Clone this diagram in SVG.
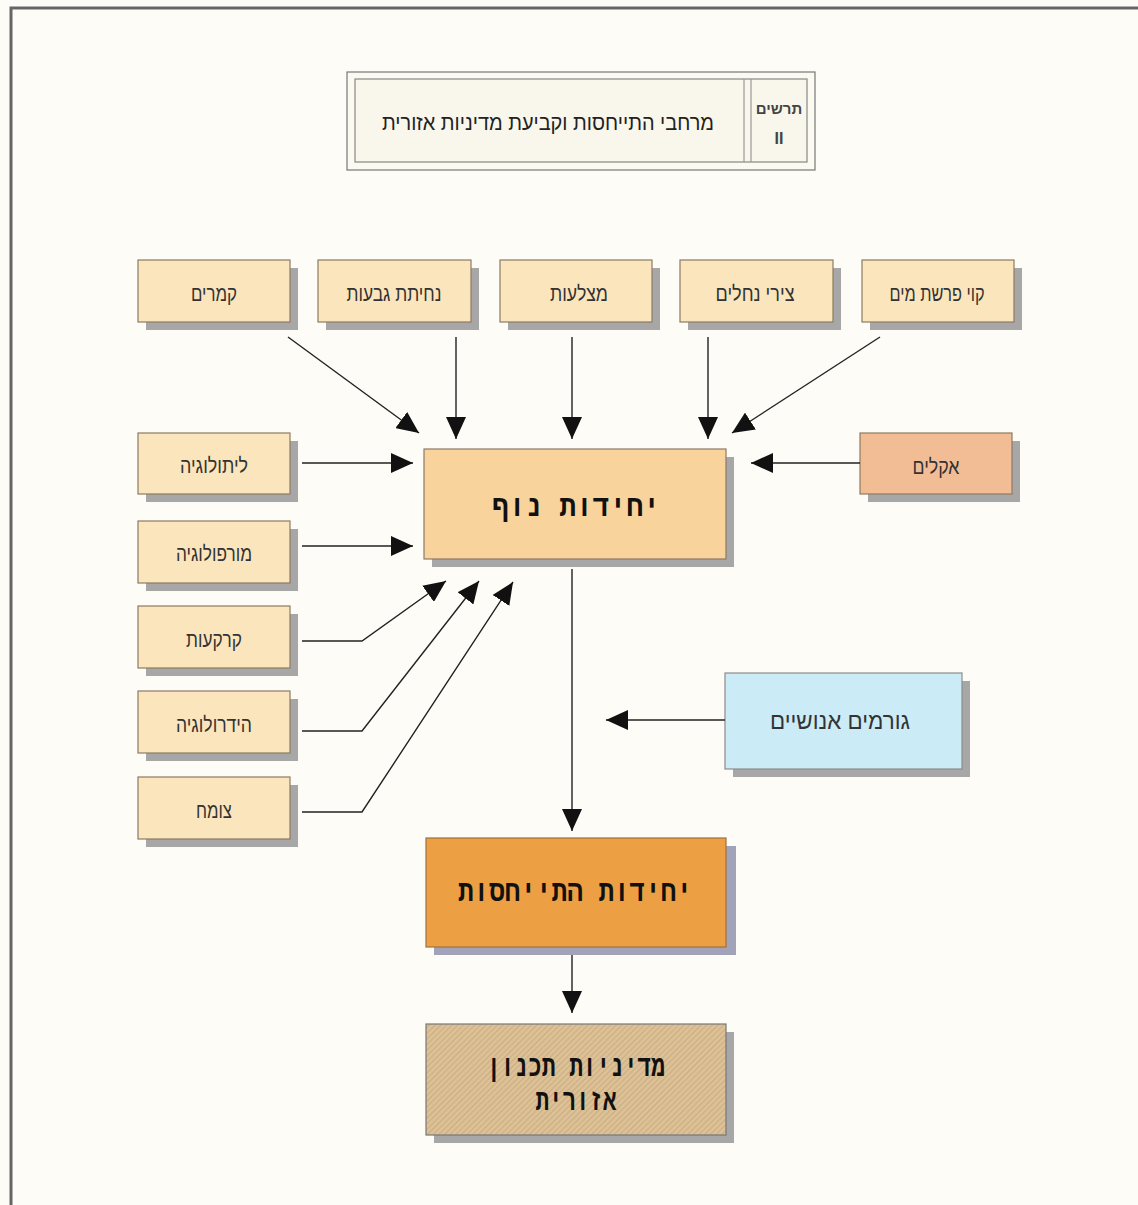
<svg xmlns="http://www.w3.org/2000/svg" width="1138" height="1205" viewBox="0 0 1138 1205">
<style>
.box{fill:#fbe5bd;stroke:#8c7b62;stroke-width:1.2}
.sh{fill:#a7a7a7}
.lbl{font-family:"Liberation Sans","DejaVu Sans",sans-serif;font-size:21px;fill:#333;text-anchor:middle}
.big{font-family:"DejaVu Sans Mono","Liberation Mono",monospace;font-weight:bold;font-size:30px;fill:#111;text-anchor:middle}
.ln{stroke:#222;stroke-width:1.4;fill:none}
</style>
<defs>
<marker id="ah" markerUnits="userSpaceOnUse" markerWidth="24" markerHeight="20" refX="22" refY="10" orient="auto">
<path d="M0,0 L22,10 L0,20 Z" fill="#111"/>
</marker>
<pattern id="tex" patternUnits="userSpaceOnUse" width="4" height="4" patternTransform="rotate(45)">
<rect width="4" height="4" fill="#dcc096"/>
<line x1="0" y1="0" x2="0" y2="4" stroke="#c6a77a" stroke-width="1.5"/>
</pattern>
</defs>
<rect x="0" y="0" width="1138" height="1205" fill="#fefcf6"/>
<path d="M11,1205 L11,8 L1138,8" fill="none" stroke="#666" stroke-width="3"/>

<g id="title">
<rect x="347" y="72" width="468" height="98" fill="#fbf9f0" stroke="#777" stroke-width="1.2"/>
<rect x="355" y="79" width="452" height="83" fill="#f9f6ec" stroke="#888" stroke-width="1.2"/>
<line x1="744" y1="79" x2="744" y2="162" stroke="#999" stroke-width="1.2"/>
<line x1="751" y1="79" x2="751" y2="162" stroke="#999" stroke-width="1.2"/>
<text class="lbl" x="548" y="130" style="font-size:22px;fill:#222" textLength="332" lengthAdjust="spacingAndGlyphs">מרחבי התייחסות וקביעת מדיניות אזורית</text>
<text class="lbl" x="779" y="114" style="font-size:15px;font-weight:bold;fill:#444">תרשים</text>
<text class="lbl" x="779" y="144" style="font-size:16px;font-weight:bold;fill:#444">II</text>
</g>

<g id="n-kmarim"><rect class="sh" x="146" y="268" width="152" height="62"/><rect class="box" x="138" y="260" width="152" height="62"/><text class="lbl" x="214" y="301" textLength="46" lengthAdjust="spacingAndGlyphs">קמרים</text></g>
<g id="n-nachit"><rect class="sh" x="326" y="268" width="153" height="62"/><rect class="box" x="318" y="260" width="153" height="62"/><text class="lbl" x="394" y="301" textLength="95" lengthAdjust="spacingAndGlyphs">נחיתת גבעות</text></g>
<g id="n-matzlaot"><rect class="sh" x="508" y="268" width="152" height="62"/><rect class="box" x="500" y="260" width="152" height="62"/><text class="lbl" x="579" y="301" textLength="58" lengthAdjust="spacingAndGlyphs">מצלעות</text></g>
<g id="n-tzirei"><rect class="sh" x="688" y="268" width="153" height="62"/><rect class="box" x="680" y="260" width="153" height="62"/><text class="lbl" x="755" y="301" textLength="79" lengthAdjust="spacingAndGlyphs">צירי נחלים</text></g>
<g id="n-kav"><rect class="sh" x="870" y="268" width="152" height="62"/><rect class="box" x="862" y="260" width="152" height="62"/><text class="lbl" x="937" y="301" textLength="95" lengthAdjust="spacingAndGlyphs">קוי פרשת מים</text></g>

<g id="n-lito"><rect class="sh" x="146" y="441" width="152" height="61"/><rect class="box" x="138" y="433" width="152" height="61"/><text class="lbl" x="214" y="473" textLength="68" lengthAdjust="spacingAndGlyphs">ליתולוגיה</text></g>
<g id="n-morfo"><rect class="sh" x="146" y="529" width="152" height="62"/><rect class="box" x="138" y="521" width="152" height="62"/><text class="lbl" x="214" y="561" textLength="76" lengthAdjust="spacingAndGlyphs">מורפולוגיה</text></g>
<g id="n-karkaot"><rect class="sh" x="146" y="614" width="152" height="62"/><rect class="box" x="138" y="606" width="152" height="62"/><text class="lbl" x="214" y="647" textLength="56" lengthAdjust="spacingAndGlyphs">קרקעות</text></g>
<g id="n-hidro"><rect class="sh" x="146" y="699" width="152" height="62"/><rect class="box" x="138" y="691" width="152" height="62"/><text class="lbl" x="214" y="732" textLength="76" lengthAdjust="spacingAndGlyphs">הידרולוגיה</text></g>
<g id="n-tzomach"><rect class="sh" x="146" y="785" width="152" height="62"/><rect class="box" x="138" y="777" width="152" height="62"/><text class="lbl" x="214" y="818" textLength="36" lengthAdjust="spacingAndGlyphs">צומח</text></g>

<g id="n-aklim"><rect class="sh" x="868" y="441" width="152" height="61"/><rect x="860" y="433" width="152" height="61" fill="#f2bd94" stroke="#8c7b62" stroke-width="1.2"/><text class="lbl" x="936" y="474" textLength="47" lengthAdjust="spacingAndGlyphs">אקלים</text></g>

<g id="n-nof"><rect class="sh" x="432" y="457" width="302" height="110"/><rect x="424" y="449" width="302" height="110" fill="#f9d39c" stroke="#8c7b62" stroke-width="1.2"/><text class="big" x="576" y="516" textLength="168" lengthAdjust="spacingAndGlyphs">יחידות נוף</text></g>

<g id="n-gormim"><rect class="sh" x="733" y="681" width="237" height="96"/><rect x="725" y="673" width="237" height="96" fill="#cbebf7" stroke="#8c8c8c" stroke-width="1.2"/><text class="lbl" x="840" y="729" style="font-size:24px" textLength="140" lengthAdjust="spacingAndGlyphs">גורמים אנושיים</text></g>

<g id="n-hityachsut"><rect x="434" y="846" width="302" height="109" fill="#a2a2b8"/><rect x="426" y="838" width="300" height="109" fill="#eda043" stroke="#a07040" stroke-width="1.2"/><text class="big" x="575" y="901" textLength="234" lengthAdjust="spacingAndGlyphs">יחידות התייחסות</text></g>

<g id="n-mediniyut"><rect class="sh" x="434" y="1032" width="300" height="111"/><rect x="426" y="1024" width="300" height="111" fill="url(#tex)" stroke="#777" stroke-width="1.2"/><text class="big" x="576" y="1076" textLength="178" lengthAdjust="spacingAndGlyphs">מדיניות תכנון</text><text class="big" x="576" y="1110" textLength="81" lengthAdjust="spacingAndGlyphs">אזורית</text></g>

<g id="connectors">
<line class="ln" x1="288" y1="337" x2="419" y2="433" marker-end="url(#ah)"/>
<line class="ln" x1="456" y1="337" x2="456" y2="439" marker-end="url(#ah)"/>
<line class="ln" x1="572" y1="337" x2="572" y2="439" marker-end="url(#ah)"/>
<line class="ln" x1="708" y1="337" x2="708" y2="439" marker-end="url(#ah)"/>
<line class="ln" x1="880" y1="337" x2="732" y2="433" marker-end="url(#ah)"/>
<line class="ln" x1="302" y1="463" x2="413" y2="463" marker-end="url(#ah)"/>
<line class="ln" x1="302" y1="546" x2="413" y2="546" marker-end="url(#ah)"/>
<line class="ln" x1="860" y1="463" x2="751" y2="463" marker-end="url(#ah)"/>
<polyline class="ln" points="302,641 362,641 446,581" marker-end="url(#ah)"/>
<polyline class="ln" points="302,731 362,731 479,581" marker-end="url(#ah)"/>
<polyline class="ln" points="302,812 362,812 513,582" marker-end="url(#ah)"/>
<line class="ln" x1="572" y1="569" x2="572" y2="831" marker-end="url(#ah)"/>
<line class="ln" x1="725" y1="720" x2="606" y2="720" marker-end="url(#ah)"/>
<line class="ln" x1="572" y1="955" x2="572" y2="1013" marker-end="url(#ah)"/>
</g>
</svg>
